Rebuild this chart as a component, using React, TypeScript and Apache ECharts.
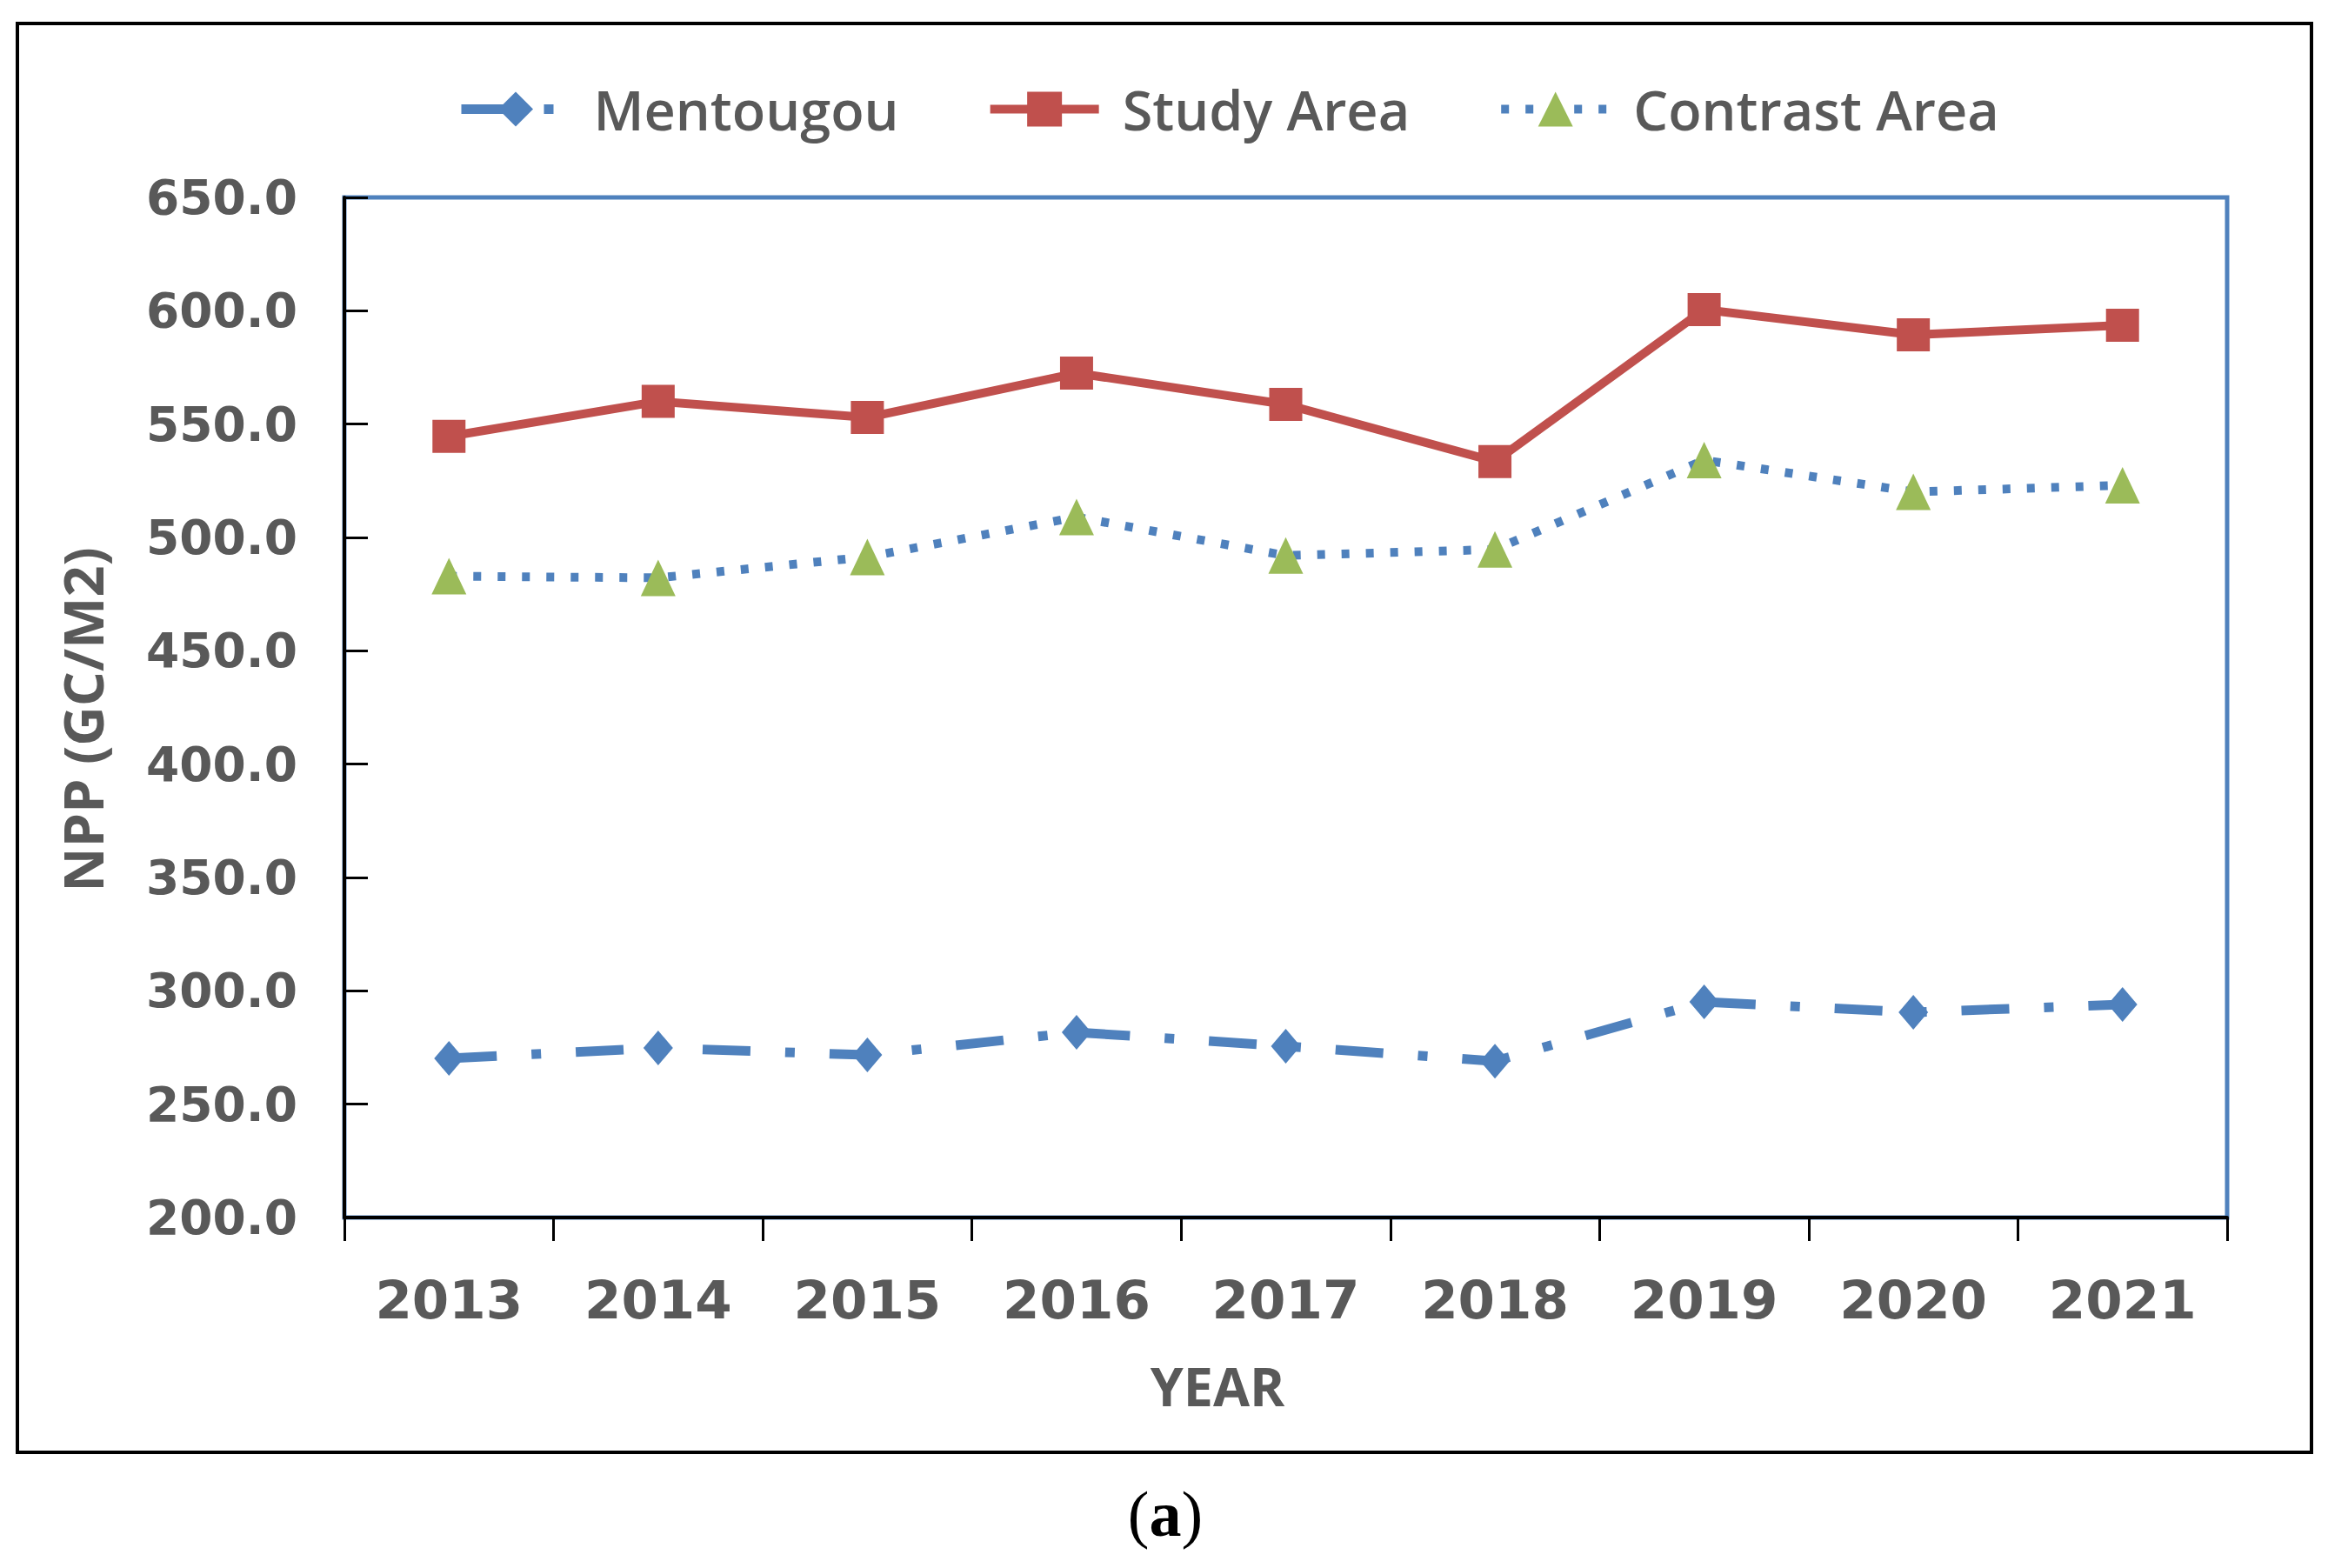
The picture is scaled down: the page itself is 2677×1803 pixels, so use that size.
import React, { useEffect, useRef } from "react";
import * as echarts from "echarts";

const years = ["2013", "2014", "2015", "2016", "2017", "2018", "2019", "2020", "2021"];
const mentougou = [270.2, 274.8, 271.7, 281.7, 275.6, 269.0, 295.1, 290.5, 294.0];
const studyArea = [544.6, 560.0, 552.9, 572.5, 558.7, 533.5, 600.5, 589.4, 593.6];
const contrastArea = [482.9, 482.2, 491.4, 509.0, 492.0, 494.7, 534.1, 520.1, 523.0];
const seriesNames = ["Mentougou", "Study Area", "Contrast Area"];

const BLUE = "#4F81BD";
const RED = "#C0504D";
const GREEN = "#9BBB59";
const GRAY = "#595959";

export default function App() {
  const ref = useRef<HTMLDivElement>(null);
  useEffect(() => {
    document.body.style.margin = "0";
    if (!ref.current) return;
    const chart = echarts.init(ref.current, null, { renderer: "svg" });
    chart.setOption({
      animation: false,
      backgroundColor: "#ffffff",
      legend: {
        left: 525,
        top: 94,
        padding: 0,
        itemWidth: 125,
        itemHeight: 50,
        itemGap: 100,
        data: seriesNames,
        lineStyle: { width: "inherit", type: "inherit" },
        textStyle: {
          fontFamily: "Open Sans",
          fontWeight: 600,
          fontSize: 63,
          color: GRAY,
          padding: [0, 0, 0, 22],
        },
      },
      grid: {
        left: 396,
        right: 116,
        top: 227,
        bottom: 403,
        show: true,
        borderColor: BLUE,
        borderWidth: 5,
        backgroundColor: "transparent",
        outerBoundsMode: "none",
      },
      xAxis: {
        type: "category",
        data: years,
        boundaryGap: true,
        z: 3,
        axisLine: { show: true, lineStyle: { color: "#000", width: 4 } },
        axisTick: { show: true, length: 27, lineStyle: { color: "#000", width: 3 } },
        axisLabel: {
          margin: 64,
          fontFamily: "DejaVu Sans",
          fontWeight: "bold",
          fontSize: 61,
          color: GRAY,
        },
        splitLine: { show: false },
      },
      yAxis: {
        type: "value",
        min: 200,
        max: 650,
        interval: 50,
        z: 3,
        name: "NPP (GC/M2)",
        nameLocation: "middle",
        nameGap: 270,
        nameTextStyle: {
          fontFamily: "Open Sans",
          fontWeight: 700,
          fontSize: 63,
          color: GRAY,
          padding: [0, 28, 0, 0],
        },
        axisLine: { show: true, lineStyle: { color: "#000", width: 4 } },
        axisTick: { show: true, inside: true, length: 27, lineStyle: { color: "#000", width: 3 } },
        axisLabel: {
          margin: 54,
          fontFamily: "DejaVu Sans",
          fontWeight: "bold",
          fontSize: 55,
          color: GRAY,
          formatter: (v: number) => v.toFixed(1),
        },
        splitLine: { show: false },
      },
      graphic: [
        {
          type: "rect",
          shape: { x: 20, y: 27, width: 2638, height: 1643 },
          style: { fill: "none", stroke: "#000", lineWidth: 4 },
          z: 10,
          silent: true,
        },
        {
          type: "text",
          x: 1400,
          y: 1593,
          style: {
            text: "YEAR",
            fontFamily: "Open Sans",
            fontWeight: 700,
            fontSize: 61,
            fill: GRAY,
            align: "center",
            verticalAlign: "middle",
          },
        },
        {
          type: "text",
          x: 1340,
          y: 1741,
          style: {
            text: "{p|(}{b|a}{p|)}",
            align: "center",
            verticalAlign: "middle",
            rich: {
              p: { fontFamily: "Liberation Serif", fontSize: 74, fill: "#000" },
              b: { fontFamily: "Liberation Serif", fontWeight: "bold", fontSize: 74, fill: "#000" },
            },
          },
        },
      ],
      series: [
        {
          name: seriesNames[0],
          type: "line",
          data: mentougou,
          symbol: "diamond",
          symbolSize: [34, 40],
          itemStyle: { color: BLUE },
          lineStyle: { color: BLUE, width: 11, type: [55, 40, 11, 40] },
          z: 4,
        },
        {
          name: seriesNames[1],
          type: "line",
          data: studyArea,
          symbol: "rect",
          symbolSize: 38,
          itemStyle: { color: RED },
          lineStyle: { color: RED, width: 10, type: "solid" },
          z: 4,
        },
        {
          name: seriesNames[2],
          type: "line",
          data: contrastArea,
          symbol: "triangle",
          symbolSize: [40, 42],
          itemStyle: { color: GREEN },
          lineStyle: { color: BLUE, width: 10, type: [9, 19] },
          z: 4,
        },
      ],
    });
    return () => chart.dispose();
  }, []);
  return <div ref={ref} style={{ width: 2677, height: 1803 }} />;
}
